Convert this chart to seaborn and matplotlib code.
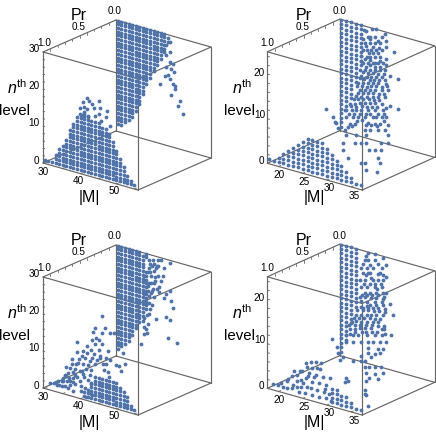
import seaborn as sns
import matplotlib.pyplot as plt

sns.set_theme(style="white")
plt.rcParams['font.family'] = ['Liberation Sans', 'DejaVu Sans']
plt.rcParams['mathtext.fontset'] = 'custom'
plt.rcParams['mathtext.rm'] = 'Liberation Sans'
plt.rcParams['mathtext.it'] = 'Liberation Sans:italic'

DOT = '#4F72A8'
EDGE = '#666666'

# ---- top left ----
a_front_m = [30, 31, 32, 33, 34, 35, 36, 37, 38, 39, 40, 41, 42, 43, 44, 45, 46, 47, 48, 49, 50, 51, 52, 53, 54, 55]
a_front_top = [1, 1, 1, 3, 5, 6, 8, 11, 13, 15, 16, 17, 16, 15, 15, 15, 14, 14, 13, 11, 9, 7, 5, 3, 2, 1]
a_back_m = [30, 31, 32, 33, 34, 35, 36, 37, 38, 39, 40, 41, 42, 43, 44]
a_back_low = [2, 2, 3, 4, 5, 7, 9, 12, 15, 17, 19, 21, 23, 25, 28]
a_back_top = [30, 30, 30, 30, 30, 30, 30, 30, 30, 30, 30, 30, 30, 30, 29]
a_free_m = [41.9, 42.4, 40.7, 40.9, 39.7, 43.1, 43.7, 45, 45.5, 41.9, 39.7, 40.9, 42.1, 43.9, 45.1, 45.8, 47.4, 47.2, 48.1]
a_free_n = [20.9, 20.4, 19.5, 18.4, 17.7, 19.7, 18.8, 21.1, 19.4, 18, 16.1, 16.4, 16.3, 16.8, 17.5, 15.9, 18.9, 17.2, 15]
a_free_pr = [1.0] * len(a_free_m)
a_far_m = [44.7, 44.7, 43.5, 42.6, 43.5, 44.5, 45.4, 43.5, 44.9, 45.7, 44, 43.1, 44.5, 41.9, 45.4, 46, 44.9, 47.3, 46.8, 48.2, 45.9]
a_far_n = [28.2, 25.5, 27, 25.4, 24.3, 22.7, 22.5, 21.2, 21.1, 20.3, 19, 18.7, 18.2, 16.2, 17.1, 15.9, 13.9, 12.9, 11.4, 9.8, 16.8]
a_far_pr = [0.0] * len(a_far_m)

# ---- top right ----
b_front_m = [18, 19, 20, 21, 22, 23, 24, 25, 26, 27, 28, 29, 30, 31, 32, 33, 34, 35, 36, 37]
b_front_top = [1, 1, 2, 3, 4, 5, 6, 7, 8, 8, 8, 8, 7, 6, 5, 4, 3, 2, 1, 1]
b_back_m = [18, 19, 20, 21, 22]
b_back_low = [1, 5, 8, 12, 16]
b_back_top = [25, 25, 25, 25, 25]
b_far_m = [22.7, 24.3, 25.2, 27, 23.5, 24.9, 26.3, 27.3, 22.8, 23.9, 24.9, 25.9, 27.3, 23.2, 24.2, 25.2, 26.3, 28.9,
           22.1, 23.2, 23.9, 24.9, 25.9, 27.3, 22.5, 23.5, 24.5, 25.6, 26.6, 27.3, 21.8, 22.8, 23.9, 24.9, 25.9,
           22.1, 23.2, 24.2, 25.2, 26.3, 28, 29.7, 21.4, 22.5, 23.5, 24.5, 25.6, 27.3, 21.8, 22.8, 23.9, 24.9, 26.3, 27.7,
           21.1, 22.1, 23.2, 24.5, 25.6, 27, 19.7, 20.8, 21.8, 22.8, 23.9, 24.9, 26.3, 28,
           18.7, 20.1, 21.1, 22.1, 23.5, 24.9, 26.6, 29.6, 19, 20.4, 21.4, 22.8, 24.5, 25.2, 26.3, 27.3,
           19.7, 20.8, 23.5, 24.9, 25.9, 27.7, 18.7, 22.8, 23.9, 25.6, 27,
           23, 24, 22.4, 24, 25.5, 23, 24.6, 25.8, 22.5, 23.7, 24.6, 25.5, 22.8, 24, 25, 26, 22, 23, 24, 25, 26, 27,
           22.4, 23.5, 24.6, 25.6, 26.8, 21.8, 22.7, 23.8, 24.8, 25.8, 27, 21.2, 22.2, 23.2, 24.2, 25.2, 26.4, 27.5,
           21.5, 22.5, 23.5, 24.6, 25.8, 26.8, 20.5, 21.5, 22.5, 23.6, 24.7, 25.8, 20, 21, 22.3, 23.3, 24.3, 25.4, 27.3,
           19.5, 20.6, 21.8, 23, 24, 25.6, 26.8, 19.3, 20.2, 21.2, 22.2, 23, 24.2, 25.4, 26.7]
b_far_n = [24.2, 24.7, 25, 24.5, 22.8, 23.2, 23.6, 23, 21.2, 21.5, 21.8, 22.1, 21.7, 19.8, 20.1, 20.4, 20.7, 21.1,
           18, 18.3, 18.5, 18.8, 19.1, 18.9, 16.6, 16.9, 17.2, 17.5, 17.8, 17.6, 14.9, 15.2, 15.5, 15.8, 16.1,
           13.5, 13.8, 14.1, 14.4, 14.7, 15.3, 15.2, 11.8, 12.1, 12.4, 12.7, 13, 13.5, 10.4, 10.7, 11, 11.3, 11.7, 12.1,
           8.7, 9, 9.3, 9.7, 10, 10.4, 6.7, 7, 7.4, 7.7, 8, 8.3, 8.7, 8.7,
           4.9, 5.3, 5.7, 6, 6.4, 6.8, 7.3, 8.5, 3.5, 3.9, 4.3, 4.7, 5.2, 5.4, 5.7, 6,
           2.2, 2.5, 3.4, 3.8, 4.1, 4.3, 0.4, 1.7, 2, 2.5, 2.9,
           24, 23, 22, 22.5, 22.5, 20.5, 20.8, 21, 19.5, 19.2, 19.5, 19.8, 17.6, 17.8, 17.5, 18.2, 17, 16, 16.6, 16.5, 16.8, 16.5,
           14.5, 14.6, 15, 15.2, 15.5, 13, 13.2, 13.3, 13.6, 13.9, 14.2, 11, 11.3, 11.5, 11.9, 12.2, 12.4, 13,
           9.7, 10, 10.2, 10.5, 10.8, 11.1, 8, 8.3, 8.5, 8.8, 9, 9.3, 6.2, 6.4, 6.9, 7.1, 7.4, 7.6, 8,
           4.3, 4.6, 5, 5.3, 5.6, 6.2, 6.5, 1.2, 1.7, 3.2, 3.8, 2.8, 3.2, 3.4, 4.8]
b_far_pr = [0.0] * len(b_far_m)
b_mid_m = [28, 30.1, 32.1, 36.6, 27.3, 29.7, 31.1, 32.1, 35.2, 36.6, 27.3, 32.8, 33.9, 35.2, 28.3, 34.5, 31.1, 31.8, 34.9, 32.1, 34.4]
b_mid_n = [6.6, 7.2, 7.8, 9.2, 4.5, 5.2, 5.7, 6, 7, 7.4, 3, 4.7, 5, 5.5, 1.5, 3.3, 1.2, 1.4, 2.4, 0, 0.3]
b_mid_pr = [0.6] * len(b_mid_m)
b_near_m = [19.2, 20.8, 21.4, 21.8, 21.1]
b_near_n = [7.5, 6.2, 5, 4, 5.2]
b_near_pr = [0.3] * len(b_near_m)

# ---- bottom left ----
c_front_m = [41, 42, 43, 44, 45, 46, 47, 48, 49, 50, 51, 52, 53, 54, 55]
c_front_top = [2, 3, 5, 7, 7, 7, 7, 8, 7, 7, 6, 5, 4, 2, 1]
c_back_m = [30, 31, 32, 33, 34, 35, 36, 37, 38]
c_back_low = [2, 3, 4, 5, 7, 9, 11, 13, 16]
c_back_top = [30, 30, 30, 30, 30, 30, 30, 29, 25]
c_free_m = [31.4, 32.5, 33.7, 33.5, 34.7, 35.1, 34.7, 35.6, 36.1, 36.5, 37, 37.5, 38.4, 38.4, 37.9, 39.3, 39.8, 40.7,
            40.7, 41.2, 42.1, 41.9, 43.1, 41.7, 40.7, 43.1, 44, 45, 45, 45.9, 43.5, 44, 45.9, 46.8, 48.2, 49.2, 47.7,
            47.2, 48.2, 45.4, 46.3, 44, 42.6, 43, 39.8, 41.2, 38.4, 36.5, 39.1, 42, 40, 38, 43.2, 41.5, 37,
            33, 34, 35, 35.5, 36, 36.8, 37, 37.8, 38, 38.7, 39, 39.5, 40, 40.3, 41, 41.5, 42.5, 43, 43.8, 44.5, 45.5,
            46.5, 47, 36, 37.5, 39, 40.5, 42.8, 44.3, 46, 47.5]
c_free_n = [1.9, 2.2, 3, 1.8, 3.2, 4.2, 1.9, 5.3, 3.6, 6, 7.5, 8.6, 6.1, 7.5, 5, 9.5, 7.4, 6.8,
            9.5, 11.4, 9.8, 12.9, 11.9, 14.6, 13.1, 16.8, 15.8, 17.3, 14.6, 19.4, 19, 20.3, 23.9, 20.9, 20, 20.3, 15,
            13, 12.8, 13, 11, 10.4, 7.2, 4.7, 4.7, 3.2, 3.4, 2, 15, 5.5, 2, 1.5, 2, 1, 4,
            2.6, 2, 3.4, 2.2, 5, 4.6, 2.8, 6.6, 4, 9, 5.5, 10.6, 3.4, 11.6, 6.2, 8.4, 11, 8.6, 13, 11.6, 12.4,
            9.5, 11.2, 7.4, 10, 12.3, 7.6, 14, 17.6, 16.4, 9.2]
c_free_pr = [1.0] * len(c_free_m)
c_far_m = [37.9, 38.8, 39.8, 41.2, 42.1, 44.5, 43, 40.7, 38.8, 39.3, 41.2, 42.6, 37.4, 38.4, 40.2, 41.6, 44.5, 43.5,
           43, 44.9, 45.4, 43.5, 44.7, 40.7, 44, 46.5, 37.4, 38.1, 36.5, 37, 39.3, 37.4, 38.8, 40.2, 37.9, 38.8, 37.4, 38.4,
           39.5, 40.5, 38.3, 41.5, 39.2, 40.2, 41.2,
           38, 39, 40, 41, 39, 40.5, 42, 37.5, 38.8, 39.8, 41, 38.5, 39.5, 37.8, 38.6, 39.6, 38, 39, 38.2, 37.2, 37.8]
c_far_n = [30, 28.6, 28.9, 29.3, 29.5, 29.3, 27.6, 26.9, 26.4, 24.3, 24.8, 25.2, 23.8, 21.3, 22.8, 20.5, 21.6, 20.7,
           19.5, 19.1, 17.4, 14.4, 14, 13, 8.9, 8.2, 8, 8.6, 5.2, 11.5, 19.8, 18.8, 16.9, 18.8, 15, 13.8, 12.5, 11,
           27, 24.5, 25, 22, 22.5, 26, 27.5,
           29, 27.5, 27.8, 27.6, 25.2, 23.2, 23.6, 22.5, 22.2, 21, 21.4, 20, 20.2, 17.8, 18.6, 16.5, 16.4, 15.2, 13.4, 10, 9.5]
c_far_pr = [0.0] * len(c_far_m)
c_near_m = [34.5, 33.6, 36.1, 36.9, 31.4]
c_near_n = [0.4, 0.3, 1.3, 0.5, 1.2]
c_near_pr = [0.2, 0.2, 0.2, 0.3, 0.0]

# ---- bottom right ----
d_front_m = [31, 32, 33, 34, 35, 36, 37]
d_front_top = [4, 4, 3, 3, 2, 1, 1]
d_back_m = [18, 19, 20, 21]
d_back_low = [1, 4, 8, 12]
d_back_top = [25, 25, 25, 25]
d_free_m = [18.9, 19.9, 21, 21.8, 22.8, 23.9, 23.7, 24.6, 22.8, 21.8, 25.6, 25.9, 27.7, 28.8, 27, 28, 24.9, 26.3, 27.7,
            29.1, 30.6, 25.6, 27, 28.4, 29.7, 26.6, 28, 29.3, 24.6, 25.9, 25.4, 23.9, 27, 28.4, 29.7,
            20.5, 22, 23, 24.5, 25, 26, 27.4, 28.6, 29.5, 30.5, 23.2, 26.8, 30.8, 24.2]
d_free_n = [1.4, 1.5, 1.4, 2.8, 4.3, 4.9, 3.5, 2.5, 1.6, 1.3, 8.1, 7.2, 9, 9, 7.3, 7.7, 6, 6, 6,
            6.1, 6.2, 4.7, 4.3, 4.4, 4.5, 2.8, 2.8, 2.8, 4, 2.9, 1.3, 2.3, 1.3, 1.4, 1.5,
            2, 3.4, 2.4, 6, 3.4, 5.2, 5.4, 7.6, 3.4, 2.6, 5.6, 8.6, 1.2, 1.2]
d_free_pr = [1.0] * len(d_free_m)
d_far_m = [23.5, 24.9, 26.6, 22.8, 23.5, 24.9, 27.3, 22.1, 23.2, 24.5, 26.3, 22.5, 23.5, 25.6, 27.3, 21.8, 22.8, 24.5, 25.6, 26.6,
           22.1, 23.2, 24.9, 26.3, 22.8, 23.9, 25.2, 26.6, 27.3, 22.1, 23.2, 24.9, 26.3, 28, 22.5, 23.5, 24.5, 25.6, 27,
           21.1, 22.1, 23.2, 24.2, 25.2, 26.6, 28.7, 20.1, 21.1, 22.1, 23.2, 24.5, 25.6, 19.7, 20.8, 21.8, 22.8, 24.2, 26.3, 27,
           19, 20.4, 21.4, 23.2, 24.9, 26.3, 28.3, 19, 20.4, 22.1, 23.5, 24.5, 25.9, 27.3, 23.5, 25.6, 26.6,
           23, 24, 25.5, 22.4, 24, 26, 23, 24.2, 25, 26.6, 22.6, 23.8, 25.4, 26.2, 22.3, 23.3, 24.4, 25.6, 26.8,
           21.8, 22.8, 24.2, 25.2, 26.5, 22, 23.2, 24, 25.2, 26.5, 21.3, 22.4, 23.5, 24.7, 25.8, 27, 20.5, 21.6, 22.6, 23.8,
           25, 26, 19.6, 20.8, 21.9, 23, 24.4, 25.6, 26.8, 19.8, 20.9, 22.2, 23.1, 24.4, 25.4, 26.8]
d_far_n = [24.7, 25, 24.6, 23, 23.2, 23.6, 23.2, 21, 21.3, 21.7, 22.2, 19.9, 20.2, 20.8, 20.6, 18.2, 18.5, 19, 19.3, 19.6,
           16.8, 17.1, 17.6, 18, 15.6, 15.9, 16.3, 16.7, 16.9, 13.5, 13.8, 14.3, 14.7, 14.8, 12.1, 12.4, 12.7, 13, 13.4,
           10.2, 10.5, 10.8, 11.1, 11.4, 11.8, 12.5, 8.3, 8.7, 9, 9.3, 9.7, 10, 6.7, 7, 7.4, 7.7, 8.1, 8.7, 7.8,
           5, 5.4, 5.8, 6.3, 6.8, 7.2, 7.9, 3.5, 3.9, 4.5, 4.9, 5.2, 5.6, 6, 3.4, 4, 4.3,
           24, 22.2, 23, 22, 20.5, 21, 19.8, 19.4, 18.2, 20.8, 17.6, 18, 17.4, 18.6, 15, 15.2, 15.6, 15.9, 16,
           14.4, 14.6, 15, 15.2, 15.4, 12.2, 12.8, 13.2, 13.6, 14, 11.4, 11.6, 11.9, 12.2, 12.4, 12.6, 9.4, 9.7, 9.9, 10.2,
           10.5, 10.7, 7.5, 7.8, 8.1, 8.5, 8.9, 9.1, 9.5, 5.5, 6.2, 6.6, 7, 7.4, 7.6, 8.8]
d_far_pr = [0.0] * len(d_far_m)
d_mid_m = [32.5, 33.9, 34.9, 27.3, 31.1, 33.2, 29.4, 31.1, 31.8, 31.8, 32.8, 33.9, 35.2, 32.1, 33.9, 35.6, 28, 32.8, 34.5, 27.7, 28.3, 32.1, 31.8, 31.8, 32.1]
d_mid_n = [9.4, 9.8, 10.2, 7.1, 8.3, 8.9, 6.7, 7.2, 7.4, 6.2, 6.5, 6.8, 7.3, 4.8, 5.3, 5.9, 2.5, 3.9, 4.4, 1.6, 1.9, 3, 1, 0, 0]
d_mid_pr = [0.6] * len(d_mid_m)
d_near_m = [20.6, 21.6, 21.8, 22.1, 35.5]
d_near_n = [6.9, 5.4, 4, 2.6, 0]
d_near_pr = [0.3, 0.3, 0.3, 0.3, 0.8]


def project(m, n, pr, box):
    # oblique view of the cube, in figure pixels
    x = box['x0'] + (m - box['mmin']) * box['mx'] + (1 - pr) * box['px']
    y = box['y0'] + (m - box['mmin']) * box['my'] + (1 - pr) * box['py'] - n * box['ny']
    return x, y


def lattice(ms, lows, tops, pr):
    mm, nn = [], []
    for m, lo, hi in zip(ms, lows, tops):
        for n in range(lo, hi + 1):
            mm.append(m)
            nn.append(n)
    return mm, nn, [pr] * len(mm)


def draw_panel(ax, box, groups, texts, m_ticks, n_ticks):
    mmin, mmax, nmax = box['mmin'], box['mmax'], box['nmax']
    corners = [(mmin, 1), (mmax, 1), (mmax, 0), (mmin, 0)]
    for i in range(4):
        c1, c2 = corners[i], corners[(i + 1) % 4]
        for n in (0, nmax):
            p1 = project(c1[0], n, c1[1], box)
            p2 = project(c2[0], n, c2[1], box)
            ax.plot([p1[0], p2[0]], [p1[1], p2[1]], color=EDGE, lw=0.85, zorder=1)
        p1 = project(c1[0], 0, c1[1], box)
        p2 = project(c1[0], nmax, c1[1], box)
        ax.plot([p1[0], p2[0]], [p1[1], p2[1]], color=EDGE, lw=0.85, zorder=1)

    for n in n_ticks:
        p1 = project(mmin, n, 1, box)
        p2 = project(mmin + 0.5, n, 1, box)
        ax.plot([p1[0], p2[0]], [p1[1], p2[1]], color=EDGE, lw=0.6, zorder=1)
    for m in m_ticks:
        p1 = project(m, 0, 1, box)
        p2 = project(m, 0, 0.97, box)
        ax.plot([p1[0], p2[0]], [p1[1], p2[1]], color=EDGE, lw=0.6, zorder=1)
    for pr in [0.1, 0.2, 0.3, 0.4, 0.5, 0.6, 0.7, 0.8, 0.9]:
        p1 = project(mmin, nmax, pr, box)
        p2 = project(mmin, nmax - 0.5, pr, box)
        ax.plot([p1[0], p2[0]], [p1[1], p2[1]], color=EDGE, lw=0.6, zorder=1)

    xs, ys = [], []
    for mm, nn, pp in groups:
        for m, n, pr in zip(mm, nn, pp):
            x, y = project(m, n, pr, box)
            xs.append(x)
            ys.append(y)
    sns.scatterplot(x=xs, y=ys, ax=ax, color=DOT, s=7.5, linewidth=0, zorder=3, legend=False)

    for x, y, s, size in texts:
        ax.text(x + box['ox'], y + box['oy'], s, fontsize=size, color='black',
                ha='center', va='center', clip_on=True)


fig = plt.figure(figsize=(4.36, 4.36), dpi=100)
ax = fig.add_axes([0, 0, 1, 1])
ax.set_xlim(0, 436)
ax.set_ylim(436, 0)
ax.axis('off')

m_ticks_left = [30, 35, 40, 45, 50, 55]
n_ticks_left = [2, 4, 6, 8, 10, 12, 14, 16, 18, 20, 22, 24, 26, 28]
m_ticks_right = [20, 25, 30, 35]
n_ticks_right = [2, 4, 6, 8, 10, 12, 14, 16, 18, 20, 22, 24]

left_texts = [(79, 15, 'Pr', 11.5), (79, 27, '0.5', 7.2), (115, 11, '0.0', 7.2), (44, 43, '1.0', 7.2),
              (34, 49, '30', 7.2), (34, 86, '20', 7.2), (34, 123, '10', 7.2), (36.5, 161, '0', 7.2),
              (17, 88, r'$n^{\mathrm{th}}$', 11.5), (14, 110.5, 'level', 10.8), (89, 197, '|M|', 11.5),
              (43, 172, '30', 7.2), (78, 181, '40', 7.2), (114, 191, '50', 7.2)]
right_texts = [(86, 15, 'Pr', 11.5), (85, 27, '0.5', 7.2), (122, 11, '0.0', 7.2), (49, 43, '1.0', 7.2),
               (41, 73, '20', 7.2), (42, 115, '10', 7.2), (43, 161, '0', 7.2),
               (24, 88, r'$n^{\mathrm{th}}$', 11.5), (21, 110.5, 'level', 10.8), (96, 197, '|M|', 11.5),
               (61, 175, '20', 7.2), (86, 182, '25', 7.2), (111, 188, '30', 7.2), (136, 196, '35', 7.2)]

box_a = dict(x0=43, y0=163, mmin=29.5, mmax=56, mx=3.585, my=1.02, px=73, py=-32, ny=3.7, nmax=30, ox=0, oy=0)
box_b = dict(x0=267.3, y0=163.3, mmin=17.65, mmax=37.3, mx=4.83, my=1.36, px=72.5, py=-32.7, ny=4.46, nmax=25, ox=218, oy=0)
box_c = dict(box_a, y0=388, oy=225)
box_d = dict(box_b, y0=388.3, oy=225)

draw_panel(ax, box_a,
           [lattice(a_front_m, [1] * len(a_front_m), a_front_top, 1.0),
            lattice(a_back_m, a_back_low, a_back_top, 0.0),
            (a_free_m, a_free_n, a_free_pr), (a_far_m, a_far_n, a_far_pr)],
           left_texts, m_ticks_left, n_ticks_left)
draw_panel(ax, box_b,
           [lattice(b_front_m, [1] * len(b_front_m), b_front_top, 1.0),
            lattice(b_back_m, b_back_low, b_back_top, 0.0),
            (b_far_m, b_far_n, b_far_pr), (b_mid_m, b_mid_n, b_mid_pr), (b_near_m, b_near_n, b_near_pr)],
           right_texts, m_ticks_right, n_ticks_right)
draw_panel(ax, box_c,
           [lattice(c_front_m, [1] * len(c_front_m), c_front_top, 1.0),
            lattice(c_back_m, c_back_low, c_back_top, 0.0),
            (c_free_m, c_free_n, c_free_pr), (c_far_m, c_far_n, c_far_pr), (c_near_m, c_near_n, c_near_pr)],
           left_texts, m_ticks_left, n_ticks_left)
draw_panel(ax, box_d,
           [lattice(d_front_m, [1] * len(d_front_m), d_front_top, 1.0),
            lattice(d_back_m, d_back_low, d_back_top, 0.0),
            (d_free_m, d_free_n, d_free_pr), (d_far_m, d_far_n, d_far_pr),
            (d_mid_m, d_mid_n, d_mid_pr), (d_near_m, d_near_n, d_near_pr)],
           right_texts, m_ticks_right, n_ticks_right)

plt.savefig('out.png', dpi=100)
plt.close()
